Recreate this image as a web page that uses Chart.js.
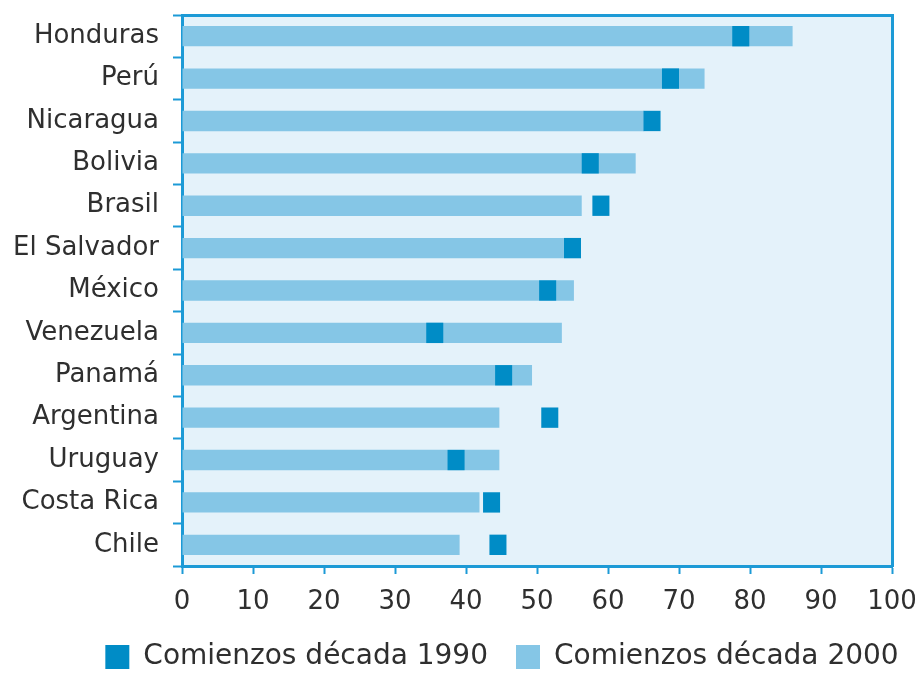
<!DOCTYPE html>
<html>
<head>
<meta charset="utf-8">
<script src="https://cdn.jsdelivr.net/npm/chart.js@4/dist/chart.umd.min.js"></script>
<style>
html,body{margin:0;padding:0;background:#ffffff;}
#wrap{width:917px;height:675px;}
</style>
</head>
<body>
<div id="wrap"><canvas id="c" width="917" height="675"></canvas></div>
<script>
// ---- data ----
const countries = ['Honduras','Perú','Nicaragua','Bolivia','Brasil','El Salvador','México','Venezuela','Panamá','Argentina','Uruguay','Costa Rica','Chile'];
const values1990 = [78.7, 68.8, 66.2, 57.5, 59.0, 55.0, 51.5, 35.6, 45.3, 51.8, 38.6, 43.6, 44.5];
const values2000 = [86.0, 73.6, 65.1, 63.9, 56.3, 53.8, 55.2, 53.5, 49.3, 44.7, 44.7, 41.9, 39.1];
const xTickValues = [0, 10, 20, 30, 40, 50, 60, 70, 80, 90, 100];
const seriesNames = ['Comienzos década 1990', 'Comienzos década 2000'];

// ---- style ----
const MARK_HALF = 1.2;           // half width of the 1990 marker, in axis units
const AXIS_BLUE = '#1c9ad6';
const DARK = '#008cc6';
const LIGHT = '#85c6e6';
const PLOT_BG = '#e4f2fa';
const TEXT = '#2f2f2f';
const FONT = 'DejaVu Sans';

const plotBg = {
  id: 'plotBg',
  beforeDraw(chart) {
    const {ctx, chartArea: a} = chart;
    ctx.save();
    ctx.fillStyle = PLOT_BG;
    ctx.fillRect(a.left, a.top, a.right - a.left, a.bottom - a.top);
    ctx.restore();
  }
};

// place the legend row slightly right of the canvas centre, as in the original
const legendShift = {
  id: 'legendShift',
  afterLayout(chart) {
    if (chart.legend) { chart.legend.left = 4; chart.legend.right = 1000; }
  }
};

function noPad(scale) {
  scale.paddingTop = 0; scale.paddingBottom = 0;
  scale.paddingLeft = 0; scale.paddingRight = 0;
}

new Chart(document.getElementById('c'), {
  type: 'bar',
  data: {
    labels: countries,
    datasets: [
      {
        label: seriesNames[0],
        data: values1990.map(v => [v - MARK_HALF, v + MARK_HALF]),
        backgroundColor: DARK,
        borderWidth: 0,
        grouped: false,
        barPercentage: 0.48,
        categoryPercentage: 1,
        xAxisID: 'x',
        yAxisID: 'y'
      },
      {
        label: seriesNames[1],
        data: values2000,
        backgroundColor: LIGHT,
        borderWidth: 0,
        grouped: false,
        barPercentage: 0.48,
        categoryPercentage: 1,
        xAxisID: 'x',
        yAxisID: 'y'
      }
    ]
  },
  options: {
    indexAxis: 'y',
    responsive: false,
    devicePixelRatio: 1,
    animation: false,
    layout: { padding: 0 },
    scales: {
      x: {
        type: 'linear',
        position: 'bottom',
        min: 0,
        max: 100,
        afterBuildTicks(scale) { scale.ticks = xTickValues.map(v => ({value: v})); },
        afterFit(scale) { scale.height = 49; noPad(scale); },
        grid: { drawOnChartArea: false, drawTicks: true, tickLength: 8, tickColor: AXIS_BLUE, tickWidth: 2, color: AXIS_BLUE },
        border: { display: true, color: AXIS_BLUE, width: 3 },
        ticks: { color: TEXT, font: { family: FONT, size: 26 }, padding: 13, maxRotation: 0 }
      },
      x2: {
        type: 'linear',
        position: 'top',
        min: 0,
        max: 100,
        afterFit(scale) { scale.height = 15; noPad(scale); },
        grid: { display: false, drawTicks: false },
        border: { display: true, color: AXIS_BLUE, width: 3 },
        ticks: { display: false }
      },
      y: {
        type: 'category',
        position: 'left',
        offset: true,
        afterFit(scale) { scale.width = 182; noPad(scale); },
        grid: { drawOnChartArea: false, drawTicks: true, tickLength: 9, tickColor: AXIS_BLUE, tickWidth: 2, offset: true, color: AXIS_BLUE },
        border: { display: true, color: AXIS_BLUE, width: 3 },
        ticks: { color: TEXT, font: { family: FONT, size: 26 }, padding: 14, autoSkip: false }
      },
      y2: {
        type: 'category',
        position: 'right',
        labels: countries,
        offset: true,
        afterFit(scale) { scale.width = 25; noPad(scale); },
        grid: { display: false, drawTicks: false },
        border: { display: true, color: AXIS_BLUE, width: 3 },
        ticks: { display: false }
      }
    },
    plugins: {
      legend: {
        position: 'bottom',
        maxHeight: 60,
        labels: {
          color: TEXT,
          font: { family: FONT, size: 28 },
          boxWidth: 24,
          boxHeight: 24,
          padding: 28
        }
      },
      tooltip: { enabled: false }
    }
  },
  plugins: [plotBg, legendShift]
});
</script>
</body>
</html>
